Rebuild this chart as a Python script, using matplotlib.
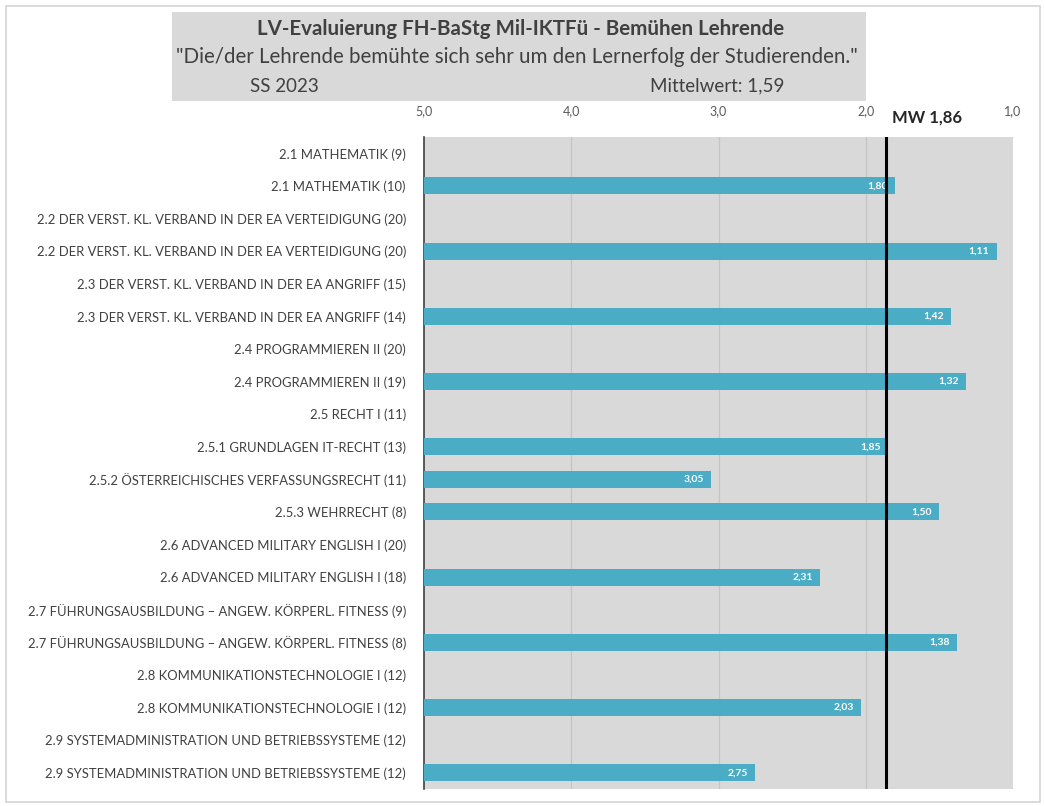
import matplotlib
matplotlib.use("Agg")
import matplotlib.pyplot as plt
from matplotlib.patches import Rectangle

plt.rcParams['font.family'] = ['Lato', 'DejaVu Sans']

# Course rows, top to bottom (None = no rating for that row)
categories = [
    "2.1 MATHEMATIK (9)",
    "2.1 MATHEMATIK (10)",
    "2.2 DER VERST. KL. VERBAND IN DER EA VERTEIDIGUNG (20)",
    "2.2 DER VERST. KL. VERBAND IN DER EA VERTEIDIGUNG (20)",
    "2.3 DER VERST. KL. VERBAND IN DER EA ANGRIFF (15)",
    "2.3 DER VERST. KL. VERBAND IN DER EA ANGRIFF (14)",
    "2.4 PROGRAMMIEREN II (20)",
    "2.4 PROGRAMMIEREN II (19)",
    "2.5 RECHT I (11)",
    "2.5.1 GRUNDLAGEN IT-RECHT (13)",
    "2.5.2 ÖSTERREICHISCHES VERFASSUNGSRECHT (11)",
    "2.5.3 WEHRRECHT (8)",
    "2.6 ADVANCED MILITARY ENGLISH I (20)",
    "2.6 ADVANCED MILITARY ENGLISH I (18)",
    "2.7 FÜHRUNGSAUSBILDUNG – ANGEW. KÖRPERL. FITNESS (9)",
    "2.7 FÜHRUNGSAUSBILDUNG – ANGEW. KÖRPERL. FITNESS (8)",
    "2.8 KOMMUNIKATIONSTECHNOLOGIE I (12)",
    "2.8 KOMMUNIKATIONSTECHNOLOGIE I (12)",
    "2.9 SYSTEMADMINISTRATION UND BETRIEBSSYSTEME (12)",
    "2.9 SYSTEMADMINISTRATION UND BETRIEBSSYSTEME (12)",
]
values = [None, 1.80, None, 1.11, None, 1.42, None, 1.32, None, 1.85,
          3.05, 1.50, None, 2.31, None, 1.38, None, 2.03, None, 2.75]

ticks = [5.0, 4.0, 3.0, 2.0, 1.0]
tick_labels = ["5,0", "4,0", "3,0", "2,0", "1,0"]
mean_all = 1.86
mean_label = "MW 1,86"

title = "LV-Evaluierung FH-BaStg Mil-IKTFü - Bemühen Lehrende"
subtitle = "\"Die/der Lehrende bemühte sich sehr um den Lernerfolg der Studierenden.\""
semester = "SS 2023"
mean_text = "Mittelwert: 1,59"

W, H = 1045, 806
fig = plt.figure(figsize=(W / 100, H / 100), dpi=100)
fig.patch.set_facecolor("white")

# thin frame around the whole chart
fig.add_artist(Rectangle((6 / W, 4 / H), 1034 / W, 796 / H, transform=fig.transFigure,
                         fill=False, edgecolor="#d4d4d4", linewidth=1.2))

# title box
fig.add_artist(Rectangle((172 / W, 1 - 101 / H), 694 / W, 89 / H, transform=fig.transFigure,
                         facecolor="#d9d9d9", edgecolor="none"))
fig.text(521 / W, 1 - 29 / H, title, ha="center", va="center", fontsize=14.8,
         fontweight="bold", color="#404040")
fig.text(517 / W, 1 - 57 / H, subtitle, ha="center", va="center", fontsize=14.8,
         color="#404040")
fig.text(250 / W, 1 - 86 / H, semester, ha="left", va="center", fontsize=13.5,
         color="#404040")
fig.text(650 / W, 1 - 86 / H, mean_text, ha="left", va="center", fontsize=13.5,
         color="#404040")

ax = fig.add_axes([424 / W, 1 - 789 / H, (1013 - 424) / W, (789 - 137) / H])
ax.set_facecolor("#d9d9d9")

n = len(categories)
ypos = list(range(n))
bar_color = "#4bacc6"
for y, v in zip(ypos, values):
    if v is None:
        continue
    ax.barh(y, v - 5.0, left=5.0, height=0.52, color=bar_color, zorder=3)
    ax.text(v + 0.05, y, f"{v:.2f}".replace(".", ","), ha="right", va="center",
            fontsize=7.5, fontweight="bold", color="white", zorder=4)

ax.set_xlim(5.0, 1.0)
ax.set_ylim(n - 0.5, -0.5)
ax.set_yticks(ypos)
ax.set_yticklabels(categories, fontsize=9.4, color="#404040")
ax.tick_params(axis="y", length=0, pad=13)

ax.xaxis.tick_top()
ax.set_xticks(ticks)
ax.set_xticklabels(tick_labels, fontsize=9, color="#595959")
ax.tick_params(axis="x", length=0, pad=14)

for t in ticks[1:-1]:
    ax.axvline(t, color="#c4c4c4", linewidth=0.9, zorder=1)

ax.axvline(mean_all, color="black", linewidth=2.2, zorder=5)
ax.text(927 / W, 1 - 118 / H, mean_label, transform=fig.transFigure, ha="center",
        va="center", fontsize=12, fontweight="bold", color="#262626")

for side in ["top", "right", "bottom"]:
    ax.spines[side].set_visible(False)
ax.spines["left"].set_color("#404040")
ax.spines["left"].set_linewidth(1.2)

fig.savefig("out.png", dpi=100, facecolor="white")
